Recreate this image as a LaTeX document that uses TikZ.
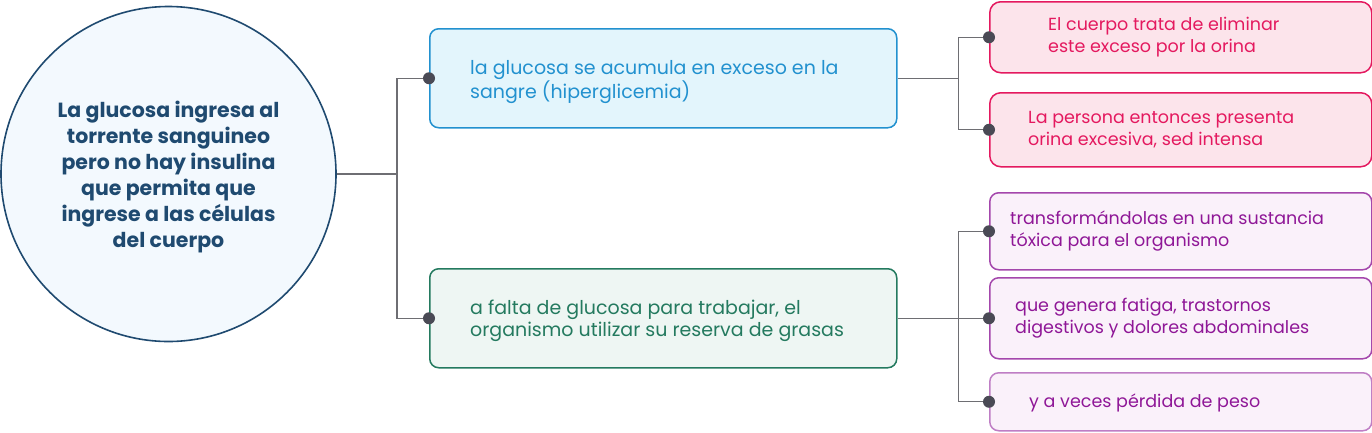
\documentclass[tikz,border=0pt]{standalone}
\usepackage{fontspec}
\setmainfont{Poppins}
\usetikzlibrary{positioning}

\definecolor{goalfill}{HTML}{F3F9FE}
\definecolor{goalline}{HTML}{1F4A70}
\definecolor{bluefill}{HTML}{E3F5FC}
\definecolor{blueline}{HTML}{2291CF}
\definecolor{greenfill}{HTML}{EEF6F3}
\definecolor{greenline}{HTML}{247A5F}
\definecolor{pinkfill}{HTML}{FCE4EB}
\definecolor{pinkline}{HTML}{E4195F}
\definecolor{purplefill}{HTML}{FAF1FA}
\definecolor{purpleline}{HTML}{A447AC}
\definecolor{purpletext}{HTML}{8F1797}
\definecolor{linkgray}{HTML}{6E6E73}
\definecolor{dotgray}{HTML}{4A4A55}

\begin{document}
\begin{tikzpicture}[x=1pt, y=-1pt,
  box/.style={draw, line width=1.5pt, rounded corners=9pt, anchor=north west, inner sep=0pt},
  txt/.style={anchor=west, align=left, inner sep=0pt, font=\fontsize{17.5}{22}\selectfont},
  bigtxt/.style={txt, font=\fontsize{19}{22}\selectfont},
  link/.style={draw=linkgray, line width=1.2pt},
  dot/.style={fill=dotgray}]

  \useasboundingbox (0,0) rectangle (1372,432);

  % main circle
  \node [circle, draw=goalline, fill=goalfill, line width=1.6pt, minimum size=335pt] (goal) at (168.5,174) {};
  \node [text=goalline, align=center, font=\fontsize{20.5}{26}\selectfont\bfseries]
    (goaltext) at ([yshift=-3.5pt]goal.center) {La glucosa ingresa al\\torrente sanguineo\\pero no hay insulina\\que permita que\\ingrese a las células\\del cuerpo};

  % second level
  \node [box, draw=blueline, fill=bluefill, minimum width=467pt, minimum height=99pt] (hyper) at (429,28) {};
  \node [bigtxt, text=blueline] (hypertext) at ([xshift=41pt, yshift=-4pt]hyper.west)
    {la glucosa se acumula en exceso en la\\sangre (hiperglicemia)};

  \node [box, draw=greenline, fill=greenfill, minimum width=467pt, minimum height=99pt] (fat) at (429,268) {};
  \node [bigtxt, text=greenline] (fattext) at ([xshift=41pt, yshift=-3pt]fat.west)
    {a falta de glucosa para trabajar, el\\organismo utilizar su reserva de grasas};

  % third level, upper
  \node [box, draw=pinkline, fill=pinkfill, minimum width=382pt, minimum height=71pt, rounded corners=11pt] (urine) at (989,1) {};
  \node [txt, text=pinkline] (urinetext) at ([xshift=59pt]urine.west)
    {El cuerpo trata de eliminar\\este exceso por la orina};

  \node [box, draw=pinkline, fill=pinkfill, minimum width=382pt, minimum height=74pt, rounded corners=11pt] (thirst) at (989,92) {};
  \node [txt, text=pinkline] (thirsttext) at ([xshift=39pt]thirst.west)
    {La persona entonces presenta\\orina excesiva, sed intensa};

  % third level, lower
  \node [box, draw=purpleline, fill=purplefill, minimum width=382pt, minimum height=77pt] (toxic) at (989,192) {};
  \node [txt, text=purpletext] (toxictext) at ([xshift=21pt, yshift=0.5pt]toxic.west)
    {transformándolas en una sustancia\\tóxica para el organismo};

  \node [box, draw=purpleline, fill=purplefill, minimum width=382pt, minimum height=81pt] (pain) at (989,277) {};
  \node [txt, text=purpletext] (paintext) at ([xshift=26pt]pain.west)
    {que genera fatiga, trastornos\\digestivos y dolores abdominales};

  \node [box, draw=purpleline!70, fill=purplefill, minimum width=382pt, minimum height=58pt] (weight) at (989,372) {};
  \node [txt, text=purpletext] (weighttext) at ([xshift=40pt, yshift=-1pt]weight.west)
    {y a veces pérdida de peso};

  % connectors
  \coordinate (split) at (397,174);
  \draw [link] (goal.east) -- (split);
  \draw [link] (split) |- (hyper.west);
  \draw [link] (split) |- (fat.west);

  \draw [link] (hyper.east) -- ++(61,0) coordinate (upsplit);
  \draw [link] (upsplit) |- (urine.west);
  \draw [link] (upsplit) |- (thirst.west);

  \draw [link] (fat.east) -- ++(61,0) coordinate (downsplit);
  \draw [link] (downsplit) |- (toxic.west);
  \draw [link] (downsplit) |- (pain.west);
  \draw [link] (downsplit) |- (weight.west);

  % dots
  \foreach \n in {hyper, fat, urine, thirst, toxic, pain, weight}
    \fill [dot] (\n.west) circle (6pt);

\end{tikzpicture}
\end{document}
